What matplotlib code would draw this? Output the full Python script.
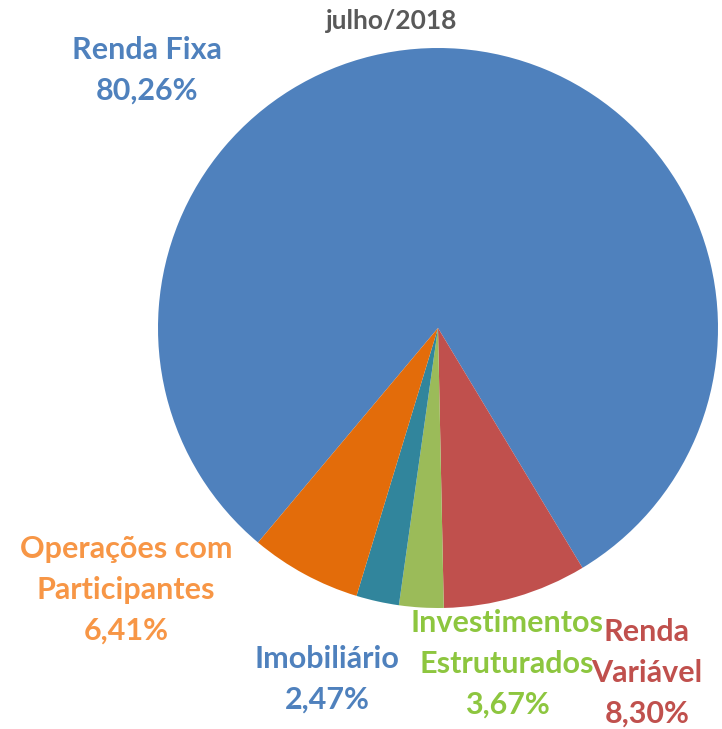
import matplotlib.pyplot as plt

# slice values (share of the portfolio) and the labels printed on the chart
categories = ['Renda Fixa', 'Renda\nVariável', 'Investimentos\nEstruturados',
              'Imobiliário', 'Operações com\nParticipantes']
values = [80.26, 8.30, 2.56, 2.47, 6.41]
label_pcts = ['80,26%', '8,30%', '3,67%', '2,47%', '6,41%']

slice_colors = ['#4F81BD', '#C0504D', '#9BBB59', '#31859C', '#E36C0A']
label_colors = ['#4F81BD', '#C0504D', '#8DC63F', '#4F81BD', '#F79646']
# label centres in pixels (x, y from top)
label_pos = [(147, 70), (647, 673), (507, 664), (327, 679), (126, 590)]

W, H = 722, 729
plt.rcParams['font.family'] = ['Lato', 'DejaVu Sans']
fig = plt.figure(figsize=(W / 100, H / 100), dpi=100)

# pie centred at (438, 328) px with radius 280 px
ax = fig.add_axes([158 / W, (H - 608) / H, 560 / W, 560 / H])
ax.pie(values, colors=slice_colors, startangle=-130, counterclock=False,
       radius=1, wedgeprops=dict(linewidth=0))
ax.set_xlim(-1, 1)
ax.set_ylim(-1, 1)
ax.set_aspect('equal')
ax.axis('off')

fig.text(392 / W, 1 - 21 / H, 'julho/2018', ha='center', va='center',
         fontsize=19, fontweight='bold', color='#595959')

for name, pct, col, (px, py) in zip(categories, label_pcts, label_colors, label_pos):
    fig.text(px / W, 1 - py / H, name + '\n' + pct, ha='center', va='center',
             fontsize=22, fontweight='bold', color=col, linespacing=1.55)

fig.savefig('out.png', dpi=100)
